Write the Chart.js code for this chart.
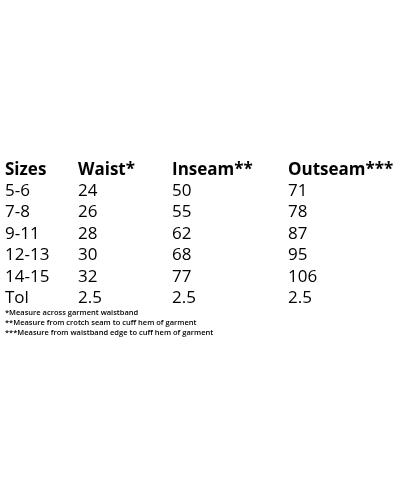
<!DOCTYPE html>
<html><head><meta charset="utf-8">
<script src="https://cdn.jsdelivr.net/npm/chart.js@4"></script>
<style>html,body{margin:0;padding:0;background:#fff}#w{width:400px;height:500px}</style>
</head><body><div id="w"><canvas id="c"></canvas></div>
<script>
const headers = ['Sizes','Waist*','Inseam**','Outseam***'];
const sizes = ['5-6','7-8','9-11','12-13','14-15','Tol'];
const waist = ['24','26','28','30','32','2.5'];
const inseam = ['50','55','62','68','77','2.5'];
const outseam = ['71','78','87','95','106','2.5'];
const notes = ['*Measure across garment waistband','**Measure from crotch seam to cuff hem of garment','***Measure from waistband edge to cuff hem of garment'];
const rowLabels = ['Sizes'].concat(sizes);
const columns = [sizes, waist, inseam, outseam];
const colX = [5, 78, 172, 288];

const datasets = columns.map((col, ci) => ({
  label: headers[ci],
  data: [{x: colX[ci], y: 'Sizes', t: headers[ci], head: true}].concat(col.map((v, ri) => ({x: colX[ci], y: sizes[ri], t: v}))),
  pointRadius: 0, showLine: false
}));

const textPlugin = {
  id: 'txt',
  afterDatasetsDraw(chart) {
    const ctx = chart.ctx;
    ctx.save();
    ctx.fillStyle = '#000';
    ctx.textAlign = 'left';
    ctx.textBaseline = 'middle';
    chart.data.datasets.forEach(ds => ds.data.forEach(p => {
      ctx.font = (p.head ? 'bold ' : '') + '17px "Open Sans"';
      ctx.fillText(p.t, chart.scales.x.getPixelForValue(p.x), chart.scales.y.getPixelForValue(p.y));
    }));
    const yLast = chart.scales.y.getPixelForValue('Tol');
    ctx.font = '600 7.5px "Open Sans"';
    notes.forEach((n, i) => ctx.fillText(n, chart.scales.x.getPixelForValue(5), yLast + 15 + i * 10));
    ctx.restore();
  }
};

new Chart(document.getElementById('c'), {
  type: 'scatter',
  data: {labels: rowLabels, datasets},
  options: {
    responsive: true, maintainAspectRatio: false, animation: false,
    layout: {padding: {left: 0, right: 0, top: 159, bottom: 191}},
    plugins: {legend: {display: false}, tooltip: {enabled: false}},
    scales: {
      x: {type: 'linear', min: 0, max: 400, display: false},
      y: {type: 'category', labels: rowLabels, offset: true, display: false}
    }
  },
  plugins: [textPlugin]
});
</script></body></html>
